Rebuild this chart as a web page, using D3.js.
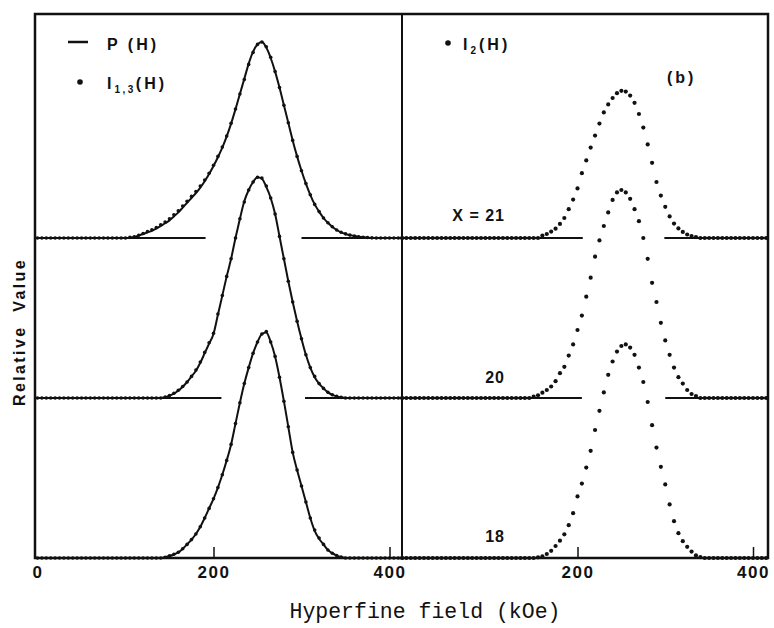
<!DOCTYPE html>
<html>
<head>
<meta charset="utf-8">
<script src="https://cdn.jsdelivr.net/npm/d3@7"></script>
<style>
  body { margin: 0; background: #fff; }
</style>
</head>
<body>
<div id="vis"></div>
<script>
/* hyperfine field grid (kOe), one point every 5 kOe */
let fieldH = d3.range(0, 420, 5);

/* left panel: P(H) line, per composition (relative value) */
let p21 = [
  0,0,0,0,0,0,0,0,0,0,0,0,
  0,0,0,0,0,0,0,0,0,.002,.006,.015,
  .025,.035,.045,.058,.075,.092,.11,.135,.16,.19,.22,.25,
  .28,.315,.355,.40,.45,.505,.565,.635,.715,.805,.90,.995,
  1.09,1.165,1.21,1.225,1.19,1.125,1.04,.94,.83,.72,.61,.51,
  .42,.34,.27,.21,.165,.125,.095,.07,.05,.035,.025,.018,
  .012,.008,.005,.002,0,0,0,0,0,0,0,0];
let p20 = [
  0,0,0,0,0,0,0,0,0,0,0,0,
  0,0,0,0,0,0,0,0,0,0,0,0,
  0,0,0,0,0,.005,.015,.028,.045,.07,.10,.135,
  .17,.22,.28,.34,.40,.52,.64,.76,.87,1.00,1.12,1.23,
  1.30,1.35,1.38,1.37,1.32,1.25,1.15,1.01,.87,.73,.60,.48,
  .37,.27,.19,.13,.09,.06,.035,.02,.01,.004,0,0,
  0,0,0,0,0,0,0,0,0,0,0,0];
let p18 = [
  0,0,0,0,0,0,0,0,0,0,0,0,
  0,0,0,0,0,0,0,0,0,0,0,0,
  0,0,0,0,0,.005,.012,.022,.035,.058,.085,.115,
  .15,.195,.25,.31,.37,.44,.52,.61,.71,.84,.97,1.09,
  1.19,1.28,1.35,1.40,1.41,1.35,1.26,1.13,.98,.82,.66,.55,
  .45,.35,.25,.17,.12,.085,.05,.03,.015,.006,0,0,
  0,0,0,0,0,0,0,0,0,0,0,0];

/* left panel: I1,3(H) dots */
let i13_21 = [
  0,0,0,0,0,0,0,0,0,0,0,0,
  0,0,0,0,0,0,0,0,0,.004,.008,.017,
  .028,.04,.052,.066,.083,.10,.12,.145,.17,.20,.23,.26,
  .29,.325,.362,.405,.455,.51,.568,.637,.717,.806,.90,.99,
  1.085,1.16,1.21,1.225,1.195,1.13,1.04,.94,.83,.72,.61,.51,
  .42,.34,.27,.21,.165,.125,.095,.07,.05,.036,.026,.018,
  .012,.008,.005,.003,.001,0,0,0,0,0,0,0];
let i13_20 = [
  0,0,0,0,0,0,0,0,0,0,0,0,
  0,0,0,0,0,0,0,0,0,0,0,0,
  0,0,0,0,0,.006,.016,.03,.048,.072,.10,.135,
  .175,.225,.285,.345,.405,.525,.64,.76,.87,1.00,1.12,1.225,
  1.30,1.35,1.38,1.375,1.325,1.25,1.15,1.01,.87,.73,.60,.48,
  .37,.27,.19,.135,.09,.06,.036,.02,.01,.004,0,0,
  0,0,0,0,0,0,0,0,0,0,0,0];
let i13_18 = [
  0,0,0,0,0,0,0,0,0,0,0,0,
  0,0,0,0,0,0,0,0,0,0,0,0,
  0,0,0,0,0,.005,.013,.023,.036,.058,.085,.115,
  .15,.195,.25,.31,.37,.44,.52,.61,.71,.84,.97,1.09,
  1.19,1.28,1.35,1.40,1.415,1.35,1.26,1.13,.98,.82,.66,.55,
  .45,.35,.25,.175,.125,.085,.05,.03,.015,.006,0,0,
  0,0,0,0,0,0,0,0,0,0,0,0];

/* right panel (b): I2(H) dots */
let i2_21 = [
  0,0,0,0,0,0,0,0,0,0,0,0,
  0,0,0,0,0,0,0,0,0,0,0,0,
  0,0,0,0,0,0,0,0,.015,.025,.04,.058,
  .088,.125,.18,.24,.31,.405,.485,.565,.64,.715,.785,.835,
  .875,.905,.92,.915,.89,.845,.775,.69,.585,.47,.35,.265,
  .195,.135,.09,.06,.038,.022,.012,.006,0,0,0,0,
  0,0,0,0,0,0,0,0,0,0,0,0];
let i2_20 = [
  0,0,0,0,0,0,0,0,0,0,0,0,
  0,0,0,0,0,0,0,0,0,0,0,0,
  0,0,0,0,0,0,.008,.017,.033,.05,.072,.105,
  .155,.195,.265,.335,.425,.515,.633,.752,.883,.985,1.075,1.16,
  1.238,1.285,1.30,1.285,1.245,1.18,1.105,1.00,.87,.72,.60,.47,
  .36,.27,.19,.13,.09,.05,.025,.012,0,0,0,0,
  0,0,0,0,0,0,0,0,0,0,0,0];
let i2_18 = [
  0,0,0,0,0,0,0,0,0,0,0,0,
  0,0,0,0,0,0,0,0,0,0,0,0,
  0,0,0,0,0,0,0,.004,.01,.025,.045,.075,
  .108,.148,.205,.28,.385,.465,.565,.67,.80,.92,1.035,1.145,
  1.228,1.29,1.325,1.335,1.315,1.27,1.19,1.10,.975,.83,.69,.57,
  .46,.335,.23,.155,.105,.07,.04,.016,.006,0,0,0,
  0,0,0,0,0,0,0,0,0,0,0,0];

/* composition labels and vertical offsets of each trace */
let compLabels = ["X = 21", "20", "18"];
let compOffsets = [2, 1, 0];

/* baseline reference segments (kOe), broken where the trace below passes */
let baseLeft = [[[0, 191], [300, 415]], [[0, 209], [304, 415]]];
let baseRight = [[[0, 206], [299, 415]], [[0, 205], [300, 415]]];

/* tick labels */
let ticksLeft = [0, 200, 400];
let ticksRight = [200, 400];

/* display */
let svg;
let width = 774;
let height = 628;
let frameX = [35, 768];
let frameY = [14, 558];
let divX = 402;
let ink = "#111";
let boldFont = "'Liberation Sans', Arial, sans-serif";

/* scales */
let xLeft = d3.scaleLinear().domain([0, 400]).range([37.5, 389.5]);
let xRight = d3.scaleLinear().domain([0, 400]).range([402, 753]);
let y = d3.scaleLinear().domain([0, 3.4]).range([frameY[1], frameY[0]]);


function drawChart () {
  svg = d3.select("#vis").append("svg")
    .attr("width", width)
    .attr("height", height)
    .style("background-color", "#fff");

  /* baseline reference lines */
  let drawBases = (segs, x) => {
    segs.forEach((pair, k) => {
      pair.forEach(s => {
        svg.append("line")
          .attr("x1", x(s[0])).attr("x2", x(s[1]))
          .attr("y1", y(compOffsets[k])).attr("y2", y(compOffsets[k]))
          .attr("stroke", ink)
          .attr("stroke-width", 2);
      });
    });
  };
  drawBases(baseLeft, xLeft);
  drawBases(baseRight, xRight);

  /* left panel: P(H) lines with I1,3(H) dots */
  let leftLines = [p21, p20, p18];
  let leftDots = [i13_21, i13_20, i13_18];
  leftLines.forEach((vals, k) => {
    let off = compOffsets[k];
    let line = d3.line()
      .x((d, i) => xLeft(fieldH[i]))
      .y(d => y(off + d))
      .curve(d3.curveMonotoneX);
    svg.append("path")
      .attr("d", line(vals))
      .attr("fill", "none")
      .attr("stroke", ink)
      .attr("stroke-width", 2);
    svg.append("g").selectAll("circle")
      .data(leftDots[k])
      .enter().append("circle")
        .attr("cx", (d, i) => xLeft(fieldH[i]))
        .attr("cy", d => y(off + d))
        .attr("r", 1.8)
        .attr("fill", ink);
  });

  /* right panel: I2(H) dots */
  let rightDots = [i2_21, i2_20, i2_18];
  rightDots.forEach((vals, k) => {
    let off = compOffsets[k];
    svg.append("g").selectAll("circle")
      .data(vals)
      .enter().append("circle")
        .attr("cx", (d, i) => xRight(fieldH[i]))
        .attr("cy", d => y(off + d))
        .attr("r", 2.1)
        .attr("fill", ink);
  });

  /* frame and panel divider */
  svg.append("rect")
    .attr("x", frameX[0]).attr("y", frameY[0])
    .attr("width", frameX[1] - frameX[0])
    .attr("height", frameY[1] - frameY[0])
    .attr("fill", "none")
    .attr("stroke", ink)
    .attr("stroke-width", 2.5);
  svg.append("line")
    .attr("x1", divX).attr("x2", divX)
    .attr("y1", frameY[0]).attr("y2", frameY[1])
    .attr("stroke", ink)
    .attr("stroke-width", 2);

  /* axes: inward ticks, labels below */
  let styleAxis = g => {
    g.select(".domain").remove();
    g.attr("font-family", boldFont)
      .attr("font-size", 17)
      .attr("font-weight", "bold");
    g.selectAll("text").attr("fill", ink).attr("letter-spacing", 1.5);
    g.selectAll("line").attr("stroke", ink).attr("stroke-width", 1.5);
    g.selectAll(".tick").filter(d => d === 0).select("line").remove();
  };
  svg.append("g")
    .attr("transform", "translate(0," + y(0) + ")")
    .call(d3.axisBottom(xLeft).tickValues(ticksLeft)
      .tickSizeInner(-11).tickSizeOuter(0).tickPadding(8))
    .call(styleAxis);
  svg.append("g")
    .attr("transform", "translate(0," + y(0) + ")")
    .call(d3.axisBottom(xRight).tickValues(ticksRight)
      .tickSizeInner(-11).tickSizeOuter(0).tickPadding(8))
    .call(styleAxis);

  /* axis titles */
  svg.append("text")
    .attr("x", 425).attr("y", 618)
    .attr("text-anchor", "middle")
    .attr("font-family", "'Liberation Mono', 'DejaVu Sans Mono', monospace")
    .attr("font-size", 21.5)
    .attr("fill", ink)
    .text("Hyperfine field (kOe)");
  svg.append("text")
    .attr("transform", "translate(25,332) rotate(-90)")
    .attr("text-anchor", "middle")
    .attr("font-family", boldFont)
    .attr("font-size", 16)
    .attr("font-weight", "bold")
    .attr("letter-spacing", 2.4)
    .attr("fill", ink)
    .attr("xml:space", "preserve")
    .text("Relative  Value");

  /* legends */
  let lbl = (x, yy) => svg.append("text")
    .attr("x", x).attr("y", yy)
    .attr("font-family", boldFont)
    .attr("font-size", 16)
    .attr("font-weight", "bold")
    .attr("letter-spacing", 3)
    .attr("fill", ink);

  svg.append("line")
    .attr("x1", 68).attr("x2", 88).attr("y1", 42).attr("y2", 42)
    .attr("stroke", ink).attr("stroke-width", 2.5);
  lbl(107, 50).text("P (H)");

  svg.append("circle").attr("cx", 80).attr("cy", 82).attr("r", 2.8).attr("fill", ink);
  let t13 = lbl(107, 89);
  t13.append("tspan").text("I");
  t13.append("tspan").attr("font-size", 10).attr("dy", 4).attr("letter-spacing", 2.5).text("1,3");
  t13.append("tspan").attr("dy", -4).attr("letter-spacing", 3).text("(H)");

  svg.append("circle").attr("cx", 448).attr("cy", 43).attr("r", 2.8).attr("fill", ink);
  let t2 = lbl(463, 50);
  t2.append("tspan").text("I");
  t2.append("tspan").attr("font-size", 10).attr("dy", 4).text("2");
  t2.append("tspan").attr("dy", -4).text("(H)");

  lbl(667, 83).text("(b)");

  /* composition labels */
  let compY = [221, 383, 542];
  compLabels.forEach((s, k) => {
    svg.append("text")
      .attr("x", 505).attr("y", compY[k])
      .attr("text-anchor", "end")
      .attr("font-family", boldFont)
      .attr("font-size", 16)
      .attr("font-weight", "bold")
      .attr("letter-spacing", 1)
      .attr("xml:space", "preserve")
      .attr("fill", ink)
      .text(s);
  });
}

drawChart();
</script>
</body>
</html>
